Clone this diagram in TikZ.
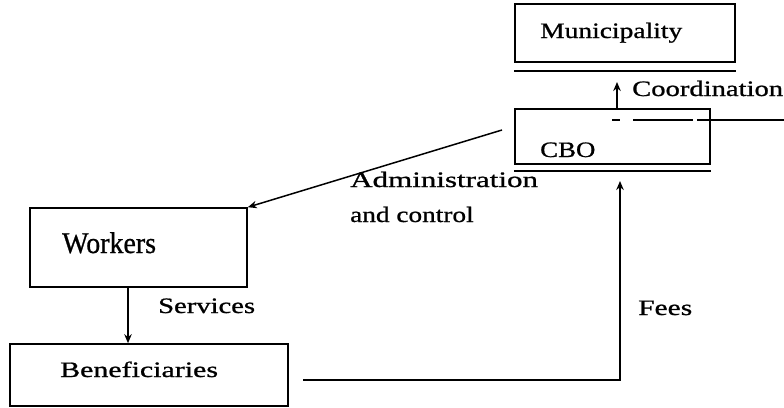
\documentclass[tikz,border=0pt]{standalone}
\usepackage{fontspec}
\setmainfont{Liberation Serif}[FakeBold=0.8,AutoFakeBold=0.8]
\usetikzlibrary{arrows.meta}
\newcommand{\widen}[2]{\scalebox{#1}[1]{#2}}
\begin{document}
\begin{tikzpicture}[x=1pt,y=-1pt,
  box/.style={draw, line width=1.6pt, rectangle, inner sep=0pt},
  rule/.style={line width=2.2pt},
  flow/.style={line width=1.5pt, -{Stealth[length=9pt,width=7.5pt]}},
  lbl/.style={inner sep=0pt, anchor=base west, font=\fontsize{22}{26}\selectfont\bfseries}]
\useasboundingbox (0,0) rectangle (784,407);

% organisations
\node[box, minimum width=220pt, minimum height=58pt] (mun) at (625,33) {};
\node[box, minimum width=195pt, minimum height=55pt] (cbo) at (612.5,136.5) {};
\node[box, minimum width=217pt, minimum height=79pt] (wrk) at (138.5,247.5) {};
\node[box, minimum width=278pt, minimum height=62pt] (ben) at (149,375) {};

% double underlines
\draw[rule] ([yshift=-8pt]mun.south west) -- ([yshift=-8pt]mun.south east);
\draw[rule] ([yshift=-6pt]cbo.south west) -- ([yshift=-6pt]cbo.south east);

% box titles
\node[lbl] (tmun) at (540,38) {\widen{1.25}{Municipality}};
\node[lbl] (tcbo) at (540,157) {\widen{1.22}{CBO}};
\node[lbl, font=\fontsize{30}{34}\selectfont\bfseries] (twrk) at (62,253) {\widen{0.93}{Workers}};
\node[lbl] (tben) at (60,377) {\widen{1.36}{Beneficiaries}};

% free ends of connectors
\coordinate (coordtip) at (617,82);
\coordinate (adminstart) at (502,130);
\coordinate (svc) at (128,0);
\coordinate (feesstart) at (303,380);
\coordinate (feestip) at (620,181);
\coordinate (linkstart) at (612,120);
\coordinate (linkend) at (784,120);

% connectors
\draw[flow] (coordtip |- cbo.north) -- (coordtip);
\draw[line width=1.5pt, dash pattern=on 8pt off 13pt on 60pt off 4pt on 200pt] (linkstart) -- (linkend);
\draw[flow] (adminstart) -- (wrk.north east);
\draw[flow] (svc |- wrk.south) -- (svc |- ben.north);
\draw[flow] (feesstart) -| (feestip);

% connector labels
\node[lbl] (lcoord) at (632,96) {\widen{1.3}{Coordination}};
\node[lbl] (ladm1) at (350,187) {\widen{1.41}{Administration}};
\node[lbl] (ladm2) at (350,222) {\widen{1.24}{and control}};
\node[lbl] (lsvc) at (158,313) {\widen{1.3}{Services}};
\node[lbl] (lfees) at (638,315) {\widen{1.34}{Fees}};
\end{tikzpicture}
\end{document}
